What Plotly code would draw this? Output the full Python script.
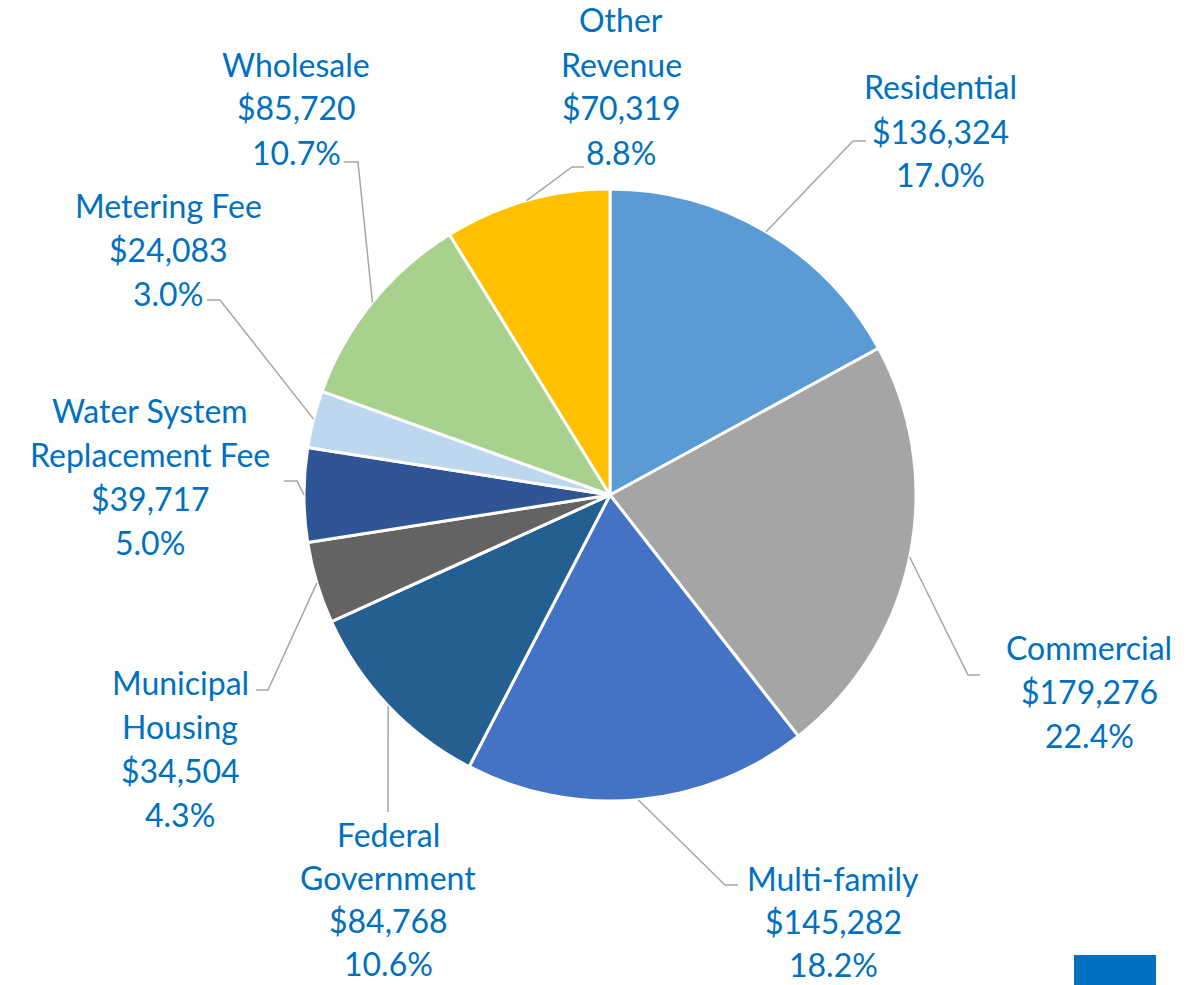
import math
import plotly.graph_objects as go

# ---- data ----
categories = ["Residential", "Commercial", "Multi-family", "Federal Government",
              "Municipal Housing", "Water System Replacement Fee", "Metering Fee",
              "Wholesale", "Other Revenue"]
values = [136324, 179276, 145282, 84768, 34504, 39717, 24083, 85720, 70319]
percents = ["17.0%", "22.4%", "18.2%", "10.6%", "4.3%", "5.0%", "3.0%", "10.7%", "8.8%"]
label_lines = [
    ["Residential"],
    ["Commercial"],
    ["Multi-family"],
    ["Federal", "Government"],
    ["Municipal", "Housing"],
    ["Water System", "Replacement Fee"],
    ["Metering Fee"],
    ["Wholesale"],
    ["Other", "Revenue"],
]
colors = ["#5B9BD5", "#A5A5A5", "#4472C4", "#255E91", "#636363",
          "#2F5597", "#BDD7EE", "#A9D18E", "#FFC000"]

# ---- layout (pixels) ----
W, H = 1198, 985
CX, CY, R = 610, 495, 306
TEXT_COLOR = "#0070C0"
FONT = "Lato"
FONT_SIZE = 32

# label block: (center x, first line y, line spacing), leader elbow point, end of horizontal tick
label_pos = [(940, 87, 44), (1089, 647, 44), (833, 878, 43), (388, 834, 43), (180, 682, 44),
             (150, 410, 44), (168, 205, 44), (296, 64, 44), (621, 20, 44)]
elbows = [(853, 141), (968, 675), (725, 885), (388, 812), (268, 690),
          (297, 481), (220, 300), (358, 162), (572, 167)]
ticks = [(866, 141), (980, 675), (738, 885), (388, 812), (256, 690),
         (284, 481), (207, 300), (344, 162), (584, 167)]


def px(x):
    return x / W


def py(y):
    return 1 - y / H


fig = go.Figure(go.Pie(
    labels=categories,
    values=values,
    sort=False,
    direction="clockwise",
    rotation=0,
    marker=dict(colors=colors, line=dict(color="white", width=3)),
    textinfo="none",
    hovertemplate="%{label}<br>$%{value:,}<br>%{percent}<extra></extra>",
    domain=dict(x=[px(CX - R), px(CX + R)], y=[py(CY + R), py(CY - R)]),
    showlegend=False,
))

annotations = []
shapes = []
total = sum(values)
cum = 0
for i, v in enumerate(values):
    mid = (cum + v / 2) / total * 2 * math.pi
    cum += v
    ex = CX + R * math.sin(mid)
    ey = CY - R * math.cos(mid)
    path = f"M {px(ex)},{py(ey)} L {px(elbows[i][0])},{py(elbows[i][1])} L {px(ticks[i][0])},{py(ticks[i][1])}"
    shapes.append(dict(type="path", xref="paper", yref="paper", path=path,
                       line=dict(color="#A6A6A6", width=1.5)))
    lines = label_lines[i] + [f"${v:,}", percents[i]]
    lx, ly, lh = label_pos[i]
    for j, t in enumerate(lines):
        annotations.append(dict(
            x=px(lx), y=py(ly + j * lh), xref="paper", yref="paper",
            text=t, showarrow=False, xanchor="center", yanchor="middle",
            borderpad=0,
            font=dict(family=FONT, size=FONT_SIZE, color=TEXT_COLOR)))

shapes.append(dict(type="rect", xref="paper", yref="paper",
                   x0=px(1074), x1=px(1156), y0=py(985), y1=py(955),
                   fillcolor="#0070C0", line=dict(width=0)))

fig.update_layout(
    width=W, height=H,
    margin=dict(l=0, r=0, t=0, b=0),
    paper_bgcolor="white", plot_bgcolor="white",
    annotations=annotations, shapes=shapes,
)

fig.write_html("out.html",
               config={"displayModeBar": False},
               post_script="document.body.style.margin='0';document.body.style.padding='0';")
